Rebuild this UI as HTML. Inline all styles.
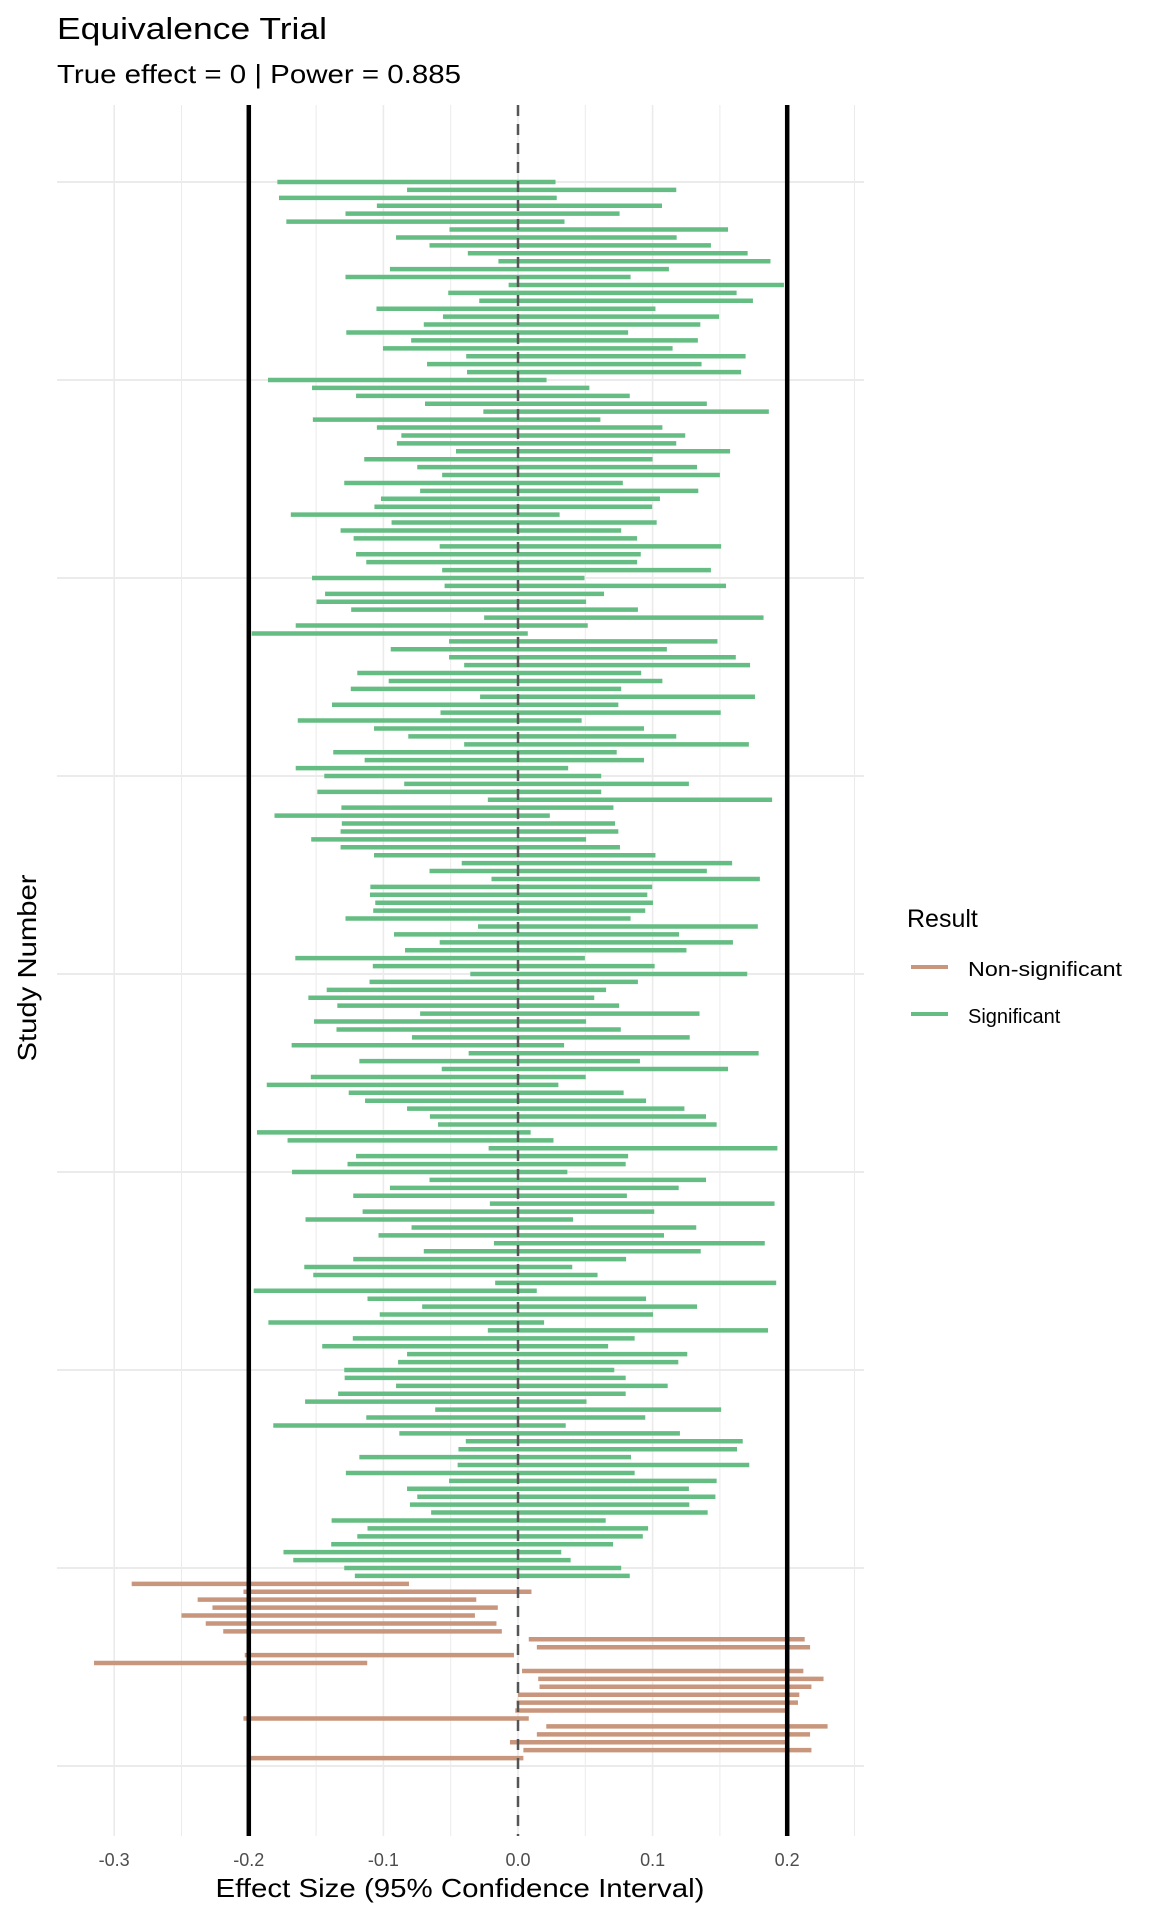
<!DOCTYPE html>
<html><head><meta charset="utf-8"><style>
html,body{margin:0;padding:0;background:#fff;}
svg{display:block;font-family:"Liberation Sans",Arial,sans-serif;}
</style></head><body>
<svg id="s" width="1152" height="1920" viewBox="0 0 1152 1920" xmlns="http://www.w3.org/2000/svg">
<rect width="1152" height="1920" fill="#fff"/>
<g id="grid"></g>
<g id="bars"></g>
<g id="ref"></g>
<text x="57" y="39" font-size="31" fill="#000" textLength="270" lengthAdjust="spacingAndGlyphs">Equivalence Trial</text>
<text x="57" y="83" font-size="26" fill="#000" textLength="404" lengthAdjust="spacingAndGlyphs">True effect = 0 | Power = 0.885</text>
<g id="ticks" font-size="18" fill="#4d4d4d" text-anchor="middle"></g>
<text x="460" y="1897" font-size="26" text-anchor="middle" fill="#000" textLength="489" lengthAdjust="spacingAndGlyphs">Effect Size (95% Confidence Interval)</text>
<text transform="translate(36,968) rotate(-90)" font-size="26" text-anchor="middle" fill="#000" textLength="187" lengthAdjust="spacingAndGlyphs">Study Number</text>
<text x="907" y="927" font-size="25" fill="#000">Result</text>
<line x1="911" y1="967" x2="948" y2="967" stroke="#c8967c" stroke-width="4"/>
<text x="968" y="976" font-size="20" fill="#000" textLength="154" lengthAdjust="spacingAndGlyphs">Non-significant</text>
<line x1="911" y1="1014" x2="948" y2="1014" stroke="#66bd83" stroke-width="4"/>
<text x="968" y="1023" font-size="20" fill="#000">Significant</text>
</svg>
<script>
var NS="http://www.w3.org/2000/svg";
function el(p,t,a){var e=document.createElementNS(NS,t);for(var k in a)e.setAttribute(k,a[k]);p.appendChild(e);return e;}
function X(v){return 518+1346*v;}
function Y(n){return 1766-7.92*n;}
var grid=document.getElementById('grid');
for(var i=-6;i<=5;i++){var v=i*0.05;el(grid,'line',{x1:X(v),x2:X(v),y1:105,y2:1836,stroke:'#ebebeb','stroke-width':(i%2==0?1.6:1)});}
for(var n=0;n<=200;n+=25){el(grid,'line',{x1:57,x2:864,y1:Y(n),y2:Y(n),stroke:'#ebebeb','stroke-width':2});}
var g=[
[200,190,872],[199,508,1168],[198,194,875],[197,434,1133],[196,357,1029],[195,212,894],[194,612,1295],[193,481,1169],[192,563,1253],[191,657,1343],[190,732,1399],[189,466,1150],[188,357,1056],[187,757,1432],[186,609,1316],[185,685,1356],[184,433,1117],[183,596,1273],[182,549,1227],[181,359,1050],[180,518,1221],[179,449,1159],[178,653,1338],[177,557,1230],
[176,655,1327],[175,167,850],[174,275,955],[173,383,1054],[172,552,1243],[171,695,1395],[170,277,982],[169,434,1134],[168,494,1190],[167,483,1168],[166,628,1300],[165,403,1110],[164,533,1219],[163,594,1275],[162,354,1037],[161,540,1222],[160,444,1128],[159,428,1109],[158,223,882],[157,470,1120],[156,345,1033],[155,377,1072],[154,588,1278],[153,383,1081],[152,408,1072],[151,594,1253],
[150,275,943],[149,600,1290],[148,307,991],[147,286,947],[146,371,1074],[145,697,1382],[144,235,951],[143,127,804],[142,611,1269],[141,468,1145],[140,611,1314],[139,648,1349],[138,386,1082],[137,463,1134],[136,370,1033],[135,687,1361],[134,324,1026],[133,590,1277],[132,240,936],[131,427,1089],[130,511,1168],[129,648,1346],[128,327,1022],[127,404,1089],[126,235,903],
[125,305,984],[124,501,1199],[123,288,984],[122,706,1403],[121,347,1014],[120,183,858],[119,348,1018],[118,345,1026],[117,273,947],[116,345,1030],[115,427,1117],[114,642,1305],[113,563,1243],[112,715,1373],[111,418,1109],[110,417,1097],[109,430,1111],[108,425,1092],[107,357,1056],[106,682,1368],[105,476,1175],[104,588,1307],[103,503,1193],[102,234,944],[101,424,1115],
[100,663,1342],[99,416,1074],[98,311,996],[97,266,967],[96,337,1028],[95,540,1225],[94,280,947],[93,335,1032],[92,520,1201],[91,225,893],[90,659,1370],[89,391,1079],[88,593,1295],[87,272,946],[86,164,879],[85,365,1039],[84,405,1094],[83,508,1188],[82,564,1241],[81,584,1267],[80,140,811],[79,215,867],[78,708,1416],[77,383,1050],[76,362,1044],[75,226,901],
[74,563,1241],[73,466,1174],[72,376,1047],[71,711,1409],[70,399,1114],[69,259,915],[68,519,1217],[67,438,1138],[66,721,1385],[65,549,1228],[64,376,1045],[63,256,913],[62,278,975],[61,724,1413],[60,132,826],[59,411,1094],[58,545,1219],[57,441,1111],[56,168,844],[55,706,1393],[54,375,1066],[53,300,1001],[52,508,1195],[51,486,1173],[50,354,1016],
[49,355,1044],[48,481,1147],[47,339,1044],[46,258,948],[45,577,1278],[44,408,1092],[43,180,897],[42,489,1177],[41,652,1331],[40,634,1317],[39,391,1057],[38,632,1347],[37,358,1066],[36,611,1267],[35,508,1199],[34,533,1264],[33,515,1200],[32,567,1245],[31,323,995],[30,411,1099],[29,386,1086],[28,322,1013],[27,205,886],[26,229,909],[25,354,1033],[24,380,1054]];
var b=[[23,-0.287,-0.081],[22,-0.204,0.010],[21,-0.238,-0.031],[20,-0.227,-0.015],[19,-0.250,-0.032],[18,-0.232,-0.016],[17,-0.219,-0.012],[16,0.008,0.213],[15,0.014,0.217],[14,-0.203,-0.003],[13,-0.315,-0.112],[12,0.003,0.212],[11,0.015,0.227],[10,0.016,0.218],[9,0.0,0.209],[8,-0.001,0.208],[7,-0.002,0.199],[6,-0.204,0.008],[5,0.021,0.230],[4,0.014,0.217],[3,-0.006,0.199],[2,0.004,0.218],[1,-0.199,0.004]];
var bars=document.getElementById('bars');
g.forEach(function(r){var a=(r[1]-780)/3300,c=(r[2]-780)/3300;el(bars,'line',{x1:X(a),x2:X(c),y1:Y(r[0]),y2:Y(r[0]),stroke:'#66bd83','stroke-width':4.5});});
b.forEach(function(r){el(bars,'line',{x1:X(r[1]),x2:X(r[2]),y1:Y(r[0]),y2:Y(r[0]),stroke:'#c8967c','stroke-width':4.5});});
var ref=document.getElementById('ref');
el(ref,'line',{x1:X(-0.2),x2:X(-0.2),y1:105,y2:1836,stroke:'#000','stroke-width':4.5});
el(ref,'line',{x1:X(0.2),x2:X(0.2),y1:105,y2:1836,stroke:'#000','stroke-width':4.5});
el(ref,'line',{x1:X(0),x2:X(0),y1:105,y2:1836,stroke:'#555','stroke-width':2.5,'stroke-dasharray':'11,8'});
var t=document.getElementById('ticks');
['-0.3','-0.2','-0.1','0.0','0.1','0.2'].forEach(function(s,i){var e=el(t,'text',{x:X(-0.3+i*0.1),y:1866});e.textContent=s;});
</script>
</body></html>
